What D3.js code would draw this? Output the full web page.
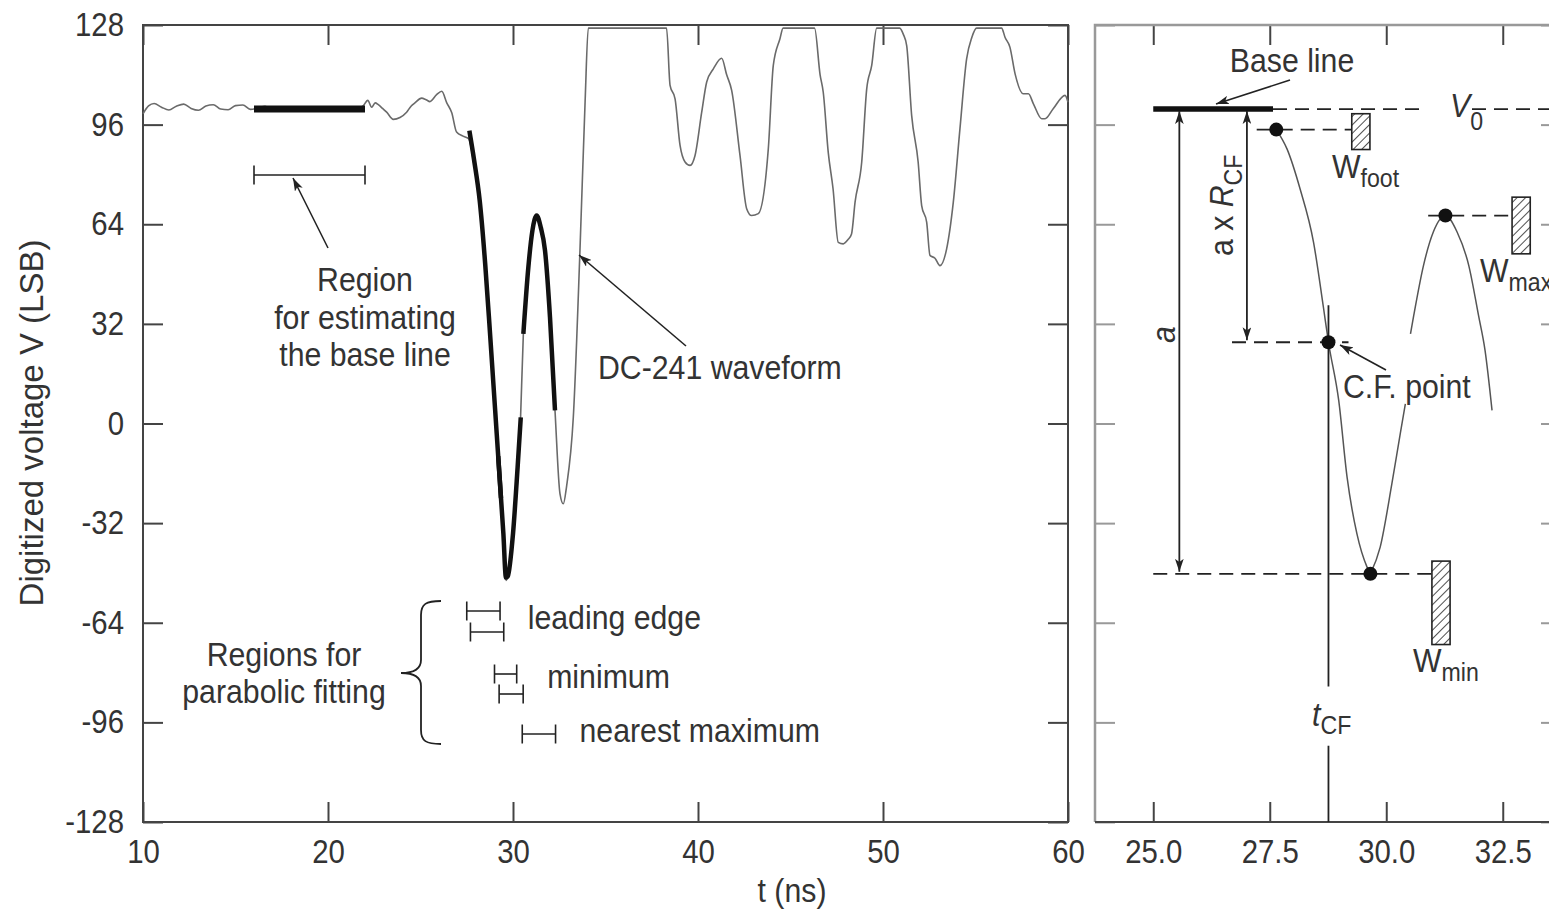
<!DOCTYPE html>
<html>
<head>
<meta charset="utf-8">
<script src="https://cdn.jsdelivr.net/npm/d3@7"></script>
<style>
  body { margin: 0; background: #fff; }
  svg text { font-family: "Liberation Sans", Arial, Helvetica, sans-serif; fill: #333; }
</style>
</head>
<body>
<svg id="chart" width="1549" height="913"></svg>
<script>
/* global d3 */

const yTicks = [-128, -96, -64, -32, 0, 32, 64, 96, 128];
const xTicksLeft = [10, 20, 30, 40, 50, 60];
const xTicksRight = [25.0, 27.5, 30.0, 32.5];

// DC-241 waveform, [t (ns), V (LSB)]
const waveform = [
  [10.0, 99.5], [10.3, 102.0], [10.6, 102.8], [11.0, 101.6], [11.4, 100.7], [11.8, 101.9],
  [12.2, 102.6], [12.6, 101.2], [13.0, 100.6], [13.4, 102.0], [13.8, 102.4], [14.2, 101.0],
  [14.6, 100.8], [15.0, 102.1], [15.4, 102.3], [15.8, 100.9], [16.2, 101.3], [16.6, 101.9],
  [17.0, 100.8], [17.5, 101.6], [18.0, 101.2], [18.5, 100.9], [19.0, 101.5], [19.5, 101.0],
  [20.0, 100.8], [20.5, 101.4], [21.0, 101.1], [21.5, 100.9], [21.9, 102.0], [22.15, 103.8],
  [22.36, 101.6], [22.55, 103.0], [22.72, 102.4], [22.95, 101.2], [23.17, 100.0], [23.53, 97.7],
  [23.89, 98.3], [24.25, 100.0], [24.5, 102.0], [24.7, 103.0], [25.06, 104.5], [25.3, 104.0],
  [25.51, 103.4], [25.87, 105.6], [26.15, 106.7], [26.42, 103.0], [26.69, 99.8], [26.95, 93.6],
  [27.3, 92.3], [27.6, 91.5], [27.9, 83], [28.2, 71.6], [28.5, 51], [28.76, 28.8],
  [29.12, -3.3], [29.48, -35.4], [29.62, -50.4], [29.72, -49], [30.0, -35.4], [30.38, -3.3],
  [30.56, 28.8], [30.83, 50.2], [31.05, 62], [31.28, 66.8], [31.5, 63], [31.73, 55.6],
  [32.0, 34.1], [32.27, 4.2], [32.54, -22.6], [32.72, -25.8], [32.9, -20], [33.26, 2],
  [33.62, 55.6], [33.9, 103.8], [34.07, 127], [38.3, 127], [38.49, 108.6], [38.76, 104.3],
  [39.03, 89.3], [39.3, 84], [39.57, 82.9], [39.84, 86.1], [40.2, 100], [40.47, 109.7],
  [40.83, 113.9], [41.28, 117.3], [41.55, 112], [41.82, 107], [42.27, 86.1], [42.63, 69],
  [42.9, 66.8], [43.26, 67.4], [43.8, 88.2], [44.07, 115], [44.43, 123.6], [44.6, 127],
  [46.3, 127], [46.6, 112], [46.77, 106.4], [47.04, 87.1], [47.3, 75.4], [47.58, 58.2],
  [47.85, 57.7], [48.1, 59], [48.3, 60.9], [48.49, 71.1], [48.85, 84], [49.12, 107.5],
  [49.39, 115], [49.66, 127], [50.9, 127], [51.1, 125], [51.28, 121.4], [51.55, 98.9],
  [51.9, 84], [52.09, 70], [52.36, 64.7], [52.54, 54], [52.81, 53.1], [53.08, 50.7],
  [53.44, 56.1], [53.8, 71.1], [54.16, 94.7], [54.52, 117.1], [54.8, 124], [55.06, 127],
  [56.41, 127], [56.6, 124], [56.86, 120.9], [57.14, 112.3], [57.58, 105.9], [57.86, 105.9],
  [58.13, 102.7], [58.58, 97.9], [58.76, 97.9], [59.2, 101.1], [59.84, 105.4], [60.0, 103.2]
];

// thick parabolic fits over the pulse
const leadFit = [[27.64, 94.1], [27.9, 84.5], [28.2, 71.6], [28.5, 51], [28.76, 28.8], [29.12, -3.3], [29.35, -24]];
const minFit = [[29.2, -10.5], [29.48, -35.4], [29.62, -49.5], [29.72, -49], [30.0, -35.4], [30.25, -14], [30.42, 2]];
const maxFit = [[30.56, 28.8], [30.83, 50.2], [31.05, 62], [31.28, 66.8], [31.5, 63], [31.73, 55.6], [32.0, 34.1], [32.27, 4.2]];

const baseRegion = [16, 22];   // ns
const baseLevel = 101;         // V0 (LSB)

const fitRegions = [
  { name: "leading edge", spans: [[27.5, 29.3], [27.7, 29.5]] },
  { name: "minimum", spans: [[29.0, 30.2], [29.25, 30.55]] },
  { name: "nearest maximum", spans: [[30.5, 32.3]] }
];

// right panel: zoom on the first pulse
const rLead = [[27.64, 94.4], [27.87, 88.2], [28.15, 75.4], [28.44, 58.2], [28.65, 37.5], [28.76, 26.1],
  [28.98, 7.4], [29.16, -17.3], [29.37, -35.4], [29.59, -46.2], [29.66, -48.3]];
const rMin = [[29.66, -48.3], [29.87, -39.7], [30.12, -19.4], [30.3, -3.3], [30.41, 6.3]];
const rMax = [[30.52, 28.8], [30.59, 34.7], [30.8, 50.8], [31.01, 61.5], [31.27, 66.8], [31.52, 61.5],
  [31.77, 50.8], [31.98, 34.7], [32.12, 23.5], [32.27, 4.2]];
const footPt = [27.64, 94.4], cfPt = [28.76, 26.1], minPt = [29.66, -48.3], maxPt = [31.27, 66.8];
const rightBase = [25.0, 27.57];
const windows = [
  { sub: "foot", t: [29.26, 29.65], v: [88, 99.5] },
  { sub: "max", t: [32.7, 33.09], v: [54.5, 72.7] },
  { sub: "min", t: [30.98, 31.37], v: [-71, -44.2] }
];

const svg = d3.select("#chart");
const SX = 0.89;
const ink = "#222";

const xL = d3.scaleLinear().domain([10, 60]).range([143, 1068]);
const xR = d3.scaleLinear().domain([23.75, 33.75]).range([1095, 1561]);
const y = d3.scaleLinear().domain([-128, 128]).range([822, 25]);

let defs = svg.append("defs");
defs.append("marker")
  .attr("id", "head").attr("viewBox", "0 0 12 8").attr("refX", 12).attr("refY", 4)
  .attr("markerWidth", 13).attr("markerHeight", 9).attr("markerUnits", "userSpaceOnUse")
  .attr("orient", "auto-start-reverse")
  .append("path").attr("d", "M0,0L12,4L0,8L3,4Z").attr("fill", ink);
defs.append("pattern")
  .attr("id", "hatch").attr("patternUnits", "userSpaceOnUse")
  .attr("width", 6).attr("height", 6).attr("patternTransform", "rotate(45)")
  .append("line").attr("x1", 0).attr("y1", 0).attr("x2", 0).attr("y2", 6)
  .attr("stroke", ink).attr("stroke-width", 1.6);

/** narrow the tick labels a bit, the scanned figure is squeezed horizontally */
function squeeze(g) {
  g.select(".domain").remove();
  g.attr("font-size", null).attr("color", "#444");
  g.selectAll(".tick line").attr("stroke-width", 2);
  g.selectAll(".tick text").each(function () {
    let t = d3.select(this), tx = +t.attr("x") || 0, ty = +t.attr("y") || 0;
    t.attr("transform", `translate(${tx},${ty}) scale(${SX},1)`).attr("x", 0).attr("y", 0)
      .style("font-size", "33px");
  });
}

function note(x, yy, str, size, anchor) {
  return svg.append("text")
    .attr("transform", `translate(${x},${yy}) scale(${SX},1)`)
    .attr("text-anchor", anchor || "start")
    .style("font-size", (size || 34) + "px")
    .text(str);
}

function seg(x1, y1, x2, y2) {
  return svg.append("line").attr("x1", x1).attr("y1", y1).attr("x2", x2).attr("y2", y2)
    .attr("stroke", ink).attr("stroke-width", 1.8);
}

// plain hyphen for negatives, as in the figure
const plain = d => String(d);

// ---- left panel axes
svg.append("g").attr("transform", "translate(0,822)")
  .call(d3.axisBottom(xL).tickValues(xTicksLeft).tickSize(-20).tickPadding(18).tickFormat(plain)).call(squeeze);
svg.append("g").attr("transform", "translate(0,25)")
  .call(d3.axisTop(xL).tickValues(xTicksLeft).tickSize(-20).tickFormat("")).call(squeeze);
svg.append("g").attr("transform", "translate(143,0)")
  .call(d3.axisLeft(y).tickValues(yTicks).tickSize(-20).tickPadding(19).tickFormat(plain)).call(squeeze);
svg.append("g").attr("transform", "translate(1068,0)")
  .call(d3.axisRight(y).tickValues(yTicks).tickSize(-20).tickFormat("")).call(squeeze);
svg.append("rect").attr("x", 143).attr("y", 25).attr("width", 1068 - 143).attr("height", 822 - 25)
  .attr("fill", "none").attr("stroke", "#444").attr("stroke-width", 2);

// ---- right panel axes
svg.append("g").attr("transform", "translate(0,822)")
  .call(d3.axisBottom(xR).tickValues(xTicksRight).tickSize(-20).tickPadding(18).tickFormat(d3.format(".1f"))).call(squeeze);
svg.append("g").attr("transform", "translate(0,25)")
  .call(d3.axisTop(xR).tickValues(xTicksRight).tickSize(-20).tickFormat("")).call(squeeze);
svg.append("g").attr("transform", "translate(1095,0)")
  .call(d3.axisLeft(y).tickValues(yTicks).tickSize(-20).tickFormat("")).call(squeeze)
  .attr("color", "#999");
svg.append("g").attr("transform", "translate(1561,0)")
  .call(d3.axisRight(y).tickValues(yTicks).tickSize(-20).tickFormat("")).call(squeeze)
  .attr("color", "#999");
svg.append("path").attr("d", "M1095,822V25H1561")
  .attr("fill", "none").attr("stroke", "#999").attr("stroke-width", 2.5);
svg.append("line").attr("x1", 1095).attr("x2", 1561).attr("y1", 822).attr("y2", 822)
  .attr("stroke", "#444").attr("stroke-width", 2);

// axis titles
note(792, 902, "t (ns)", 34, "middle");
svg.append("text").attr("transform", "translate(43,423) rotate(-90)")
  .attr("text-anchor", "middle").style("font-size", "33px").text("Digitized voltage V (LSB)");

// ---- left panel content
let lineL = d3.line().x(d => xL(d[0])).y(d => y(d[1])).curve(d3.curveMonotoneX);
svg.append("path").datum(waveform).attr("d", lineL)
  .attr("fill", "none").attr("stroke", "#6a6a6a").attr("stroke-width", 1.6);
[leadFit, minFit, maxFit].forEach(f => {
  svg.append("path").datum(f).attr("d", lineL)
    .attr("fill", "none").attr("stroke", "#111").attr("stroke-width", 4.5);
});
seg(xL(baseRegion[0]), y(baseLevel), xL(baseRegion[1]), y(baseLevel)).attr("stroke-width", 7).attr("stroke", "#111");

function rangeBar(t0, t1, yy) {
  seg(xL(t0), yy, xL(t1), yy).attr("stroke-width", 1.6);
  seg(xL(t0), yy - 9.5, xL(t0), yy + 9.5).attr("stroke-width", 1.6);
  seg(xL(t1), yy - 9.5, xL(t1), yy + 9.5).attr("stroke-width", 1.6);
}
rangeBar(baseRegion[0], baseRegion[1], 175);
seg(328, 248, 293, 178).attr("marker-end", "url(#head)").attr("stroke-width", 1.6);
note(365, 291, "Region", 34, "middle");
note(365, 329, "for estimating", 34, "middle");
note(365, 366, "the base line", 34, "middle");

seg(686, 346, 579, 255).attr("marker-end", "url(#head)").attr("stroke-width", 1.6);
note(598, 379, "DC-241 waveform");

const rowY = [[611, 632], [674, 694], [734]];
const labelY = [629, 688, 742];
fitRegions.forEach((r, i) => {
  r.spans.forEach((s, j) => rangeBar(s[0], s[1], rowY[i][j]));
  note(xL(d3.max(r.spans, s => s[1])) + 24, labelY[i], r.name);
});
svg.append("path")
  .attr("d", "M441,601C426,601 421,604 421,615L421,660C421,668 416,673 401,673C416,673 421,678 421,686L421,730C421,741 426,744 441,744")
  .attr("fill", "none").attr("stroke", ink).attr("stroke-width", 1.8);
note(284, 666, "Regions for", 34, "middle");
note(284, 703, "parabolic fitting", 34, "middle");

// ---- right panel content
let lineR = d3.line().x(d => xR(d[0])).y(d => y(d[1])).curve(d3.curveMonotoneX);
[rLead, rMin, rMax].forEach(c => {
  svg.append("path").datum(c).attr("d", lineR)
    .attr("fill", "none").attr("stroke", "#555").attr("stroke-width", 1.5);
});

function dashed(t0, t1, v) {
  return seg(xR(t0), y(v), xR(t1), y(v)).attr("stroke-dasharray", "14,8");
}
dashed(rightBase[1], 30.83, baseLevel);
dashed(31.84, 33.75, baseLevel);
dashed(27.22, windows[0].t[0], footPt[1]);
dashed(26.69, 29.19, cfPt[1]);
dashed(25.0, windows[2].t[0], minPt[1]);
dashed(30.9, windows[1].t[0], maxPt[1]);

seg(xR(rightBase[0]), y(baseLevel), xR(rightBase[1]), y(baseLevel)).attr("stroke-width", 5.5).attr("stroke", "#111");

// t_CF marker line, broken around its label
seg(xR(cfPt[0]), y(38), xR(cfPt[0]), y(-84.5));
seg(xR(cfPt[0]), y(-103.5), xR(cfPt[0]), y(-128));

// amplitude arrows
seg(xR(25.56), y(baseLevel) + 2, xR(25.56), y(minPt[1]) - 2)
  .attr("marker-start", "url(#head)").attr("marker-end", "url(#head)");
seg(xR(27.01), y(baseLevel) + 2, xR(27.01), y(cfPt[1]) - 2)
  .attr("marker-start", "url(#head)").attr("marker-end", "url(#head)");

svg.selectAll("rect.win").data(windows).enter().append("rect").attr("class", "win")
  .attr("x", d => xR(d.t[0])).attr("y", d => y(d.v[1]))
  .attr("width", d => xR(d.t[1]) - xR(d.t[0])).attr("height", d => y(d.v[0]) - y(d.v[1]))
  .attr("fill", "url(#hatch)").attr("stroke", ink).attr("stroke-width", 1.6);

svg.selectAll("circle.key").data([footPt, cfPt, minPt, maxPt]).enter().append("circle").attr("class", "key")
  .attr("cx", d => xR(d[0])).attr("cy", d => y(d[1])).attr("r", 7).attr("fill", "#111");

// labels
note(1292, 72, "Base line", 34, "middle");
seg(1290, 80, 1216, 104).attr("marker-end", "url(#head)").attr("stroke-width", 1.6);

let v0 = note(1450, 117, "V", 34);
v0.style("font-style", "italic");
v0.append("tspan").attr("dy", 13).style("font-style", "normal").style("font-size", "26px").text("0");

const wPos = [[1332, 178], [1480, 282], [1413, 672]];
windows.forEach((w, i) => {
  note(wPos[i][0], wPos[i][1], "W").append("tspan").attr("dy", 9).style("font-size", "26px").text(w.sub);
});

let tcf = note(1312, 726, "t", 34);
tcf.style("font-style", "italic");
tcf.append("tspan").attr("dy", 8).style("font-style", "normal").style("font-size", "26px").text("CF");

note(1343, 398, "C.F. point");
seg(1386, 370, 1340, 345).attr("marker-end", "url(#head)").attr("stroke-width", 1.6);

let arc = svg.append("text")
  .attr("transform", `translate(1233,256) rotate(-90) scale(${SX},1)`)
  .style("font-size", "34px").text("a x ");
arc.append("tspan").style("font-style", "italic").text("R");
arc.append("tspan").attr("dy", 9).style("font-size", "26px").text("CF");

svg.append("text").attr("transform", `translate(1175,343) rotate(-90) scale(${SX},1)`)
  .style("font-size", "34px").style("font-style", "italic").text("a");
</script>
</body>
</html>
